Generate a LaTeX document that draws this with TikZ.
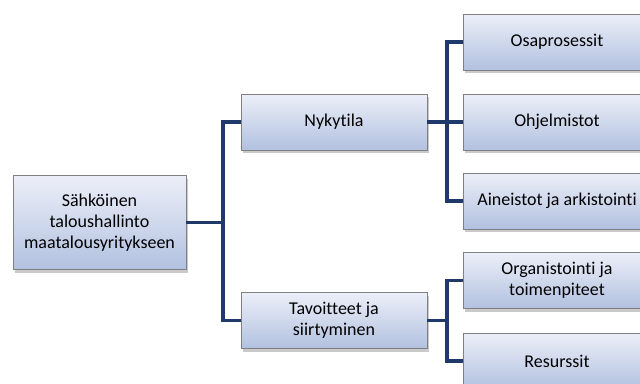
\documentclass[tikz,border=0pt]{standalone}
\usepackage{fontspec}
\setmainfont{Carlito}[Ligatures={NoCommon,NoDiscretionary,NoContextual}]
\usetikzlibrary{shadows}
\definecolor{linec}{HTML}{1F3A68}
\definecolor{topc}{HTML}{ECEFF8}
\definecolor{botc}{HTML}{B2C1E0}
\definecolor{edgec}{HTML}{808080}
\begin{document}
\begin{tikzpicture}[x=1pt,y=-1pt,
  box/.style={draw=edgec, line width=0.8pt, top color=topc, bottom color=botc,
    minimum width=186pt, minimum height=56pt, align=center, inner sep=2pt,
    font=\fontsize{18}{20.7}\selectfont,
    drop shadow={shadow xshift=2pt, shadow yshift=-3pt, opacity=0.35, fill=black!60}},
  conn/.style={draw=linec, line width=3.6pt, line join=miter}]
\useasboundingbox (0,0) rectangle (640,383);
\node[box, minimum width=173pt, minimum height=94pt] (root) at (99.5,222.5) {Sähköinen\\taloushallinto\\maatalousyritykseen};
\node[box] (nyk) at (334,122) {Nykytila};
\node[box] (tav) at (334,320.5) {Tavoitteet ja\\siirtyminen};
\node[box, minimum width=188pt] (osa) at (557,42) {Osaprosessit};
\node[box, minimum width=188pt] (ohj) at (557,122) {Ohjelmistot};
\node[box, minimum width=188pt] (ain) at (557,201) {Aineistot ja arkistointi};
\node[box, minimum width=188pt] (org) at (557,280.5) {Organistointi ja\\toimenpiteet};
\node[box, minimum width=188pt] (res) at (557,361) {Resurssit};
\coordinate (j1) at (223,222.5);
\coordinate (j2) at (447,122);
\coordinate (j3) at (447,320.5);
\draw[conn] (root.east) -- (j1);
\draw[conn] (nyk.west) -| (j1) |- (tav.west);
\draw[conn] (nyk.east) -- (ohj.west);
\draw[conn] (osa.west) -| (j2) |- (ain.west);
\draw[conn] (tav.east) -- (j3);
\draw[conn] (org.west) -| (j3) |- (res.west);
\end{tikzpicture}
\end{document}
